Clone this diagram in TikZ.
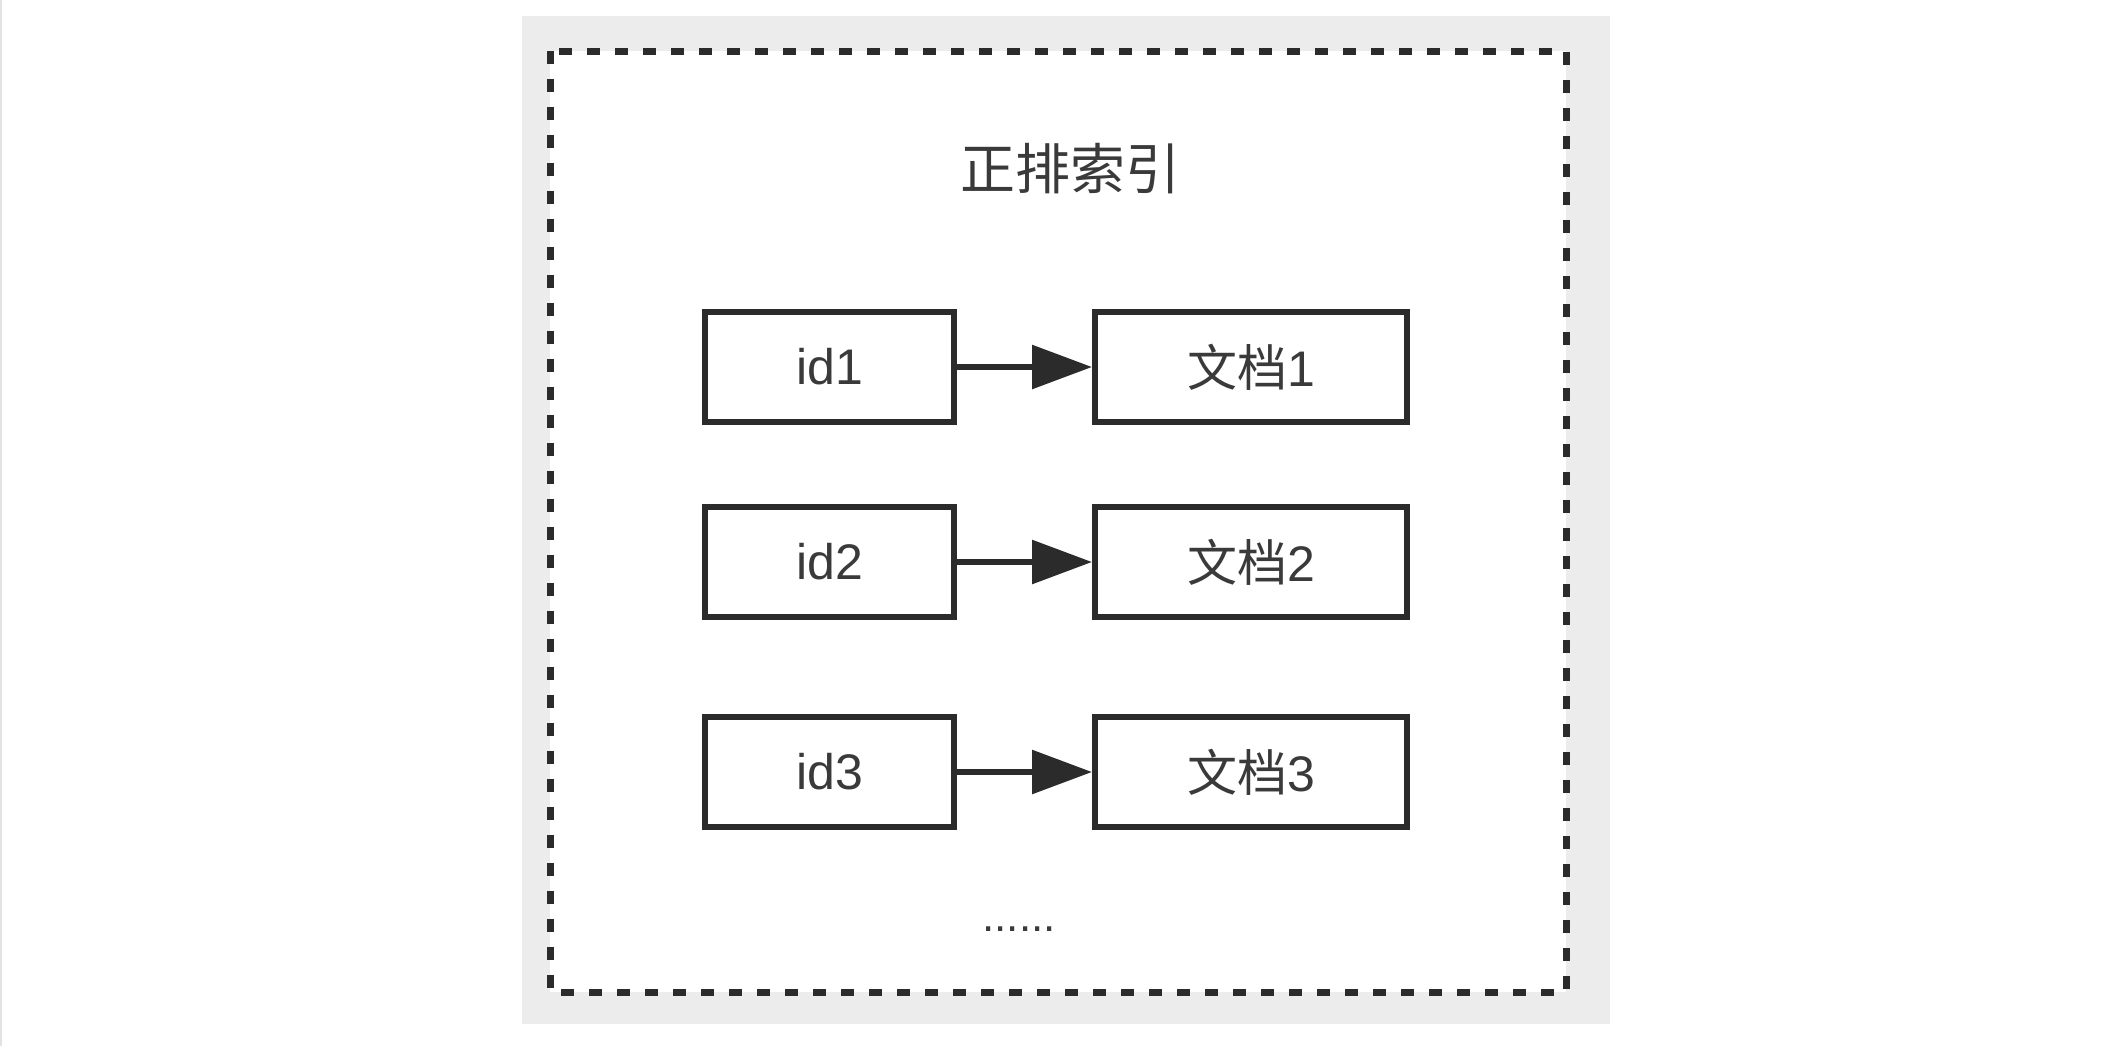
\documentclass[tikz,border=0pt]{standalone}
\usepackage{fontspec}
\setmainfont{Liberation Sans}
\newfontfamily\cjk{Noto Sans CJK SC}
\usetikzlibrary{arrows.meta}
\definecolor{panel}{HTML}{ECECEC}
\definecolor{ink}{HTML}{2B2B2B}
\definecolor{txt}{HTML}{3A3A3A}
\definecolor{edge}{HTML}{E2E2E2}

\begin{document}
\begin{tikzpicture}[x=0.5pt,y=-0.5pt,
  cell/.style={draw=ink, line width=3pt, fill=white, minimum height=55pt,
    text=txt, font=\fontsize{25}{30}\selectfont, inner sep=0pt},
  idbox/.style={cell, minimum width=124.5pt},
  docbox/.style={cell, minimum width=156pt},
  link/.style={draw=ink, line width=3pt, -{Triangle[length=30pt,width=21.5pt]}}
]
% canvas and outer frame
\useasboundingbox (0,0) rectangle (2122,1046);
\fill[white] (0,0) rectangle (2122,1046);
\draw[edge, line width=1pt] (1,0) -- (1,1046);
\fill[panel] (522,16) rectangle (1610,1024);
\draw[ink, fill=white, line width=3.5pt, dash pattern=on 6.5pt off 7.5pt]
  (550,51) rectangle (1566,992);

% title
\node[text=txt, font=\cjk\fontsize{27.5}{33}\selectfont] (title) at (1070,169) {正排索引};

% id -> document rows
\node[idbox]  (id1)  at (829.5,367) {id1};
\node[docbox] (doc1) at (1251,367)  {{\cjk 文档}1};
\node[idbox]  (id2)  at (829.5,562) {id2};
\node[docbox] (doc2) at (1251,562)  {{\cjk 文档}2};
\node[idbox]  (id3)  at (829.5,772) {id3};
\node[docbox] (doc3) at (1251,772)  {{\cjk 文档}3};

\draw[link] (id1.east) -- (doc1.west);
\draw[link] (id2.east) -- (doc2.west);
\draw[link] (id3.east) -- (doc3.west);

% ellipsis
\node[anchor=base, text=txt, font=\fontsize{22}{26}\selectfont] (more) at (1019,931) {......};
\end{tikzpicture}
\end{document}
